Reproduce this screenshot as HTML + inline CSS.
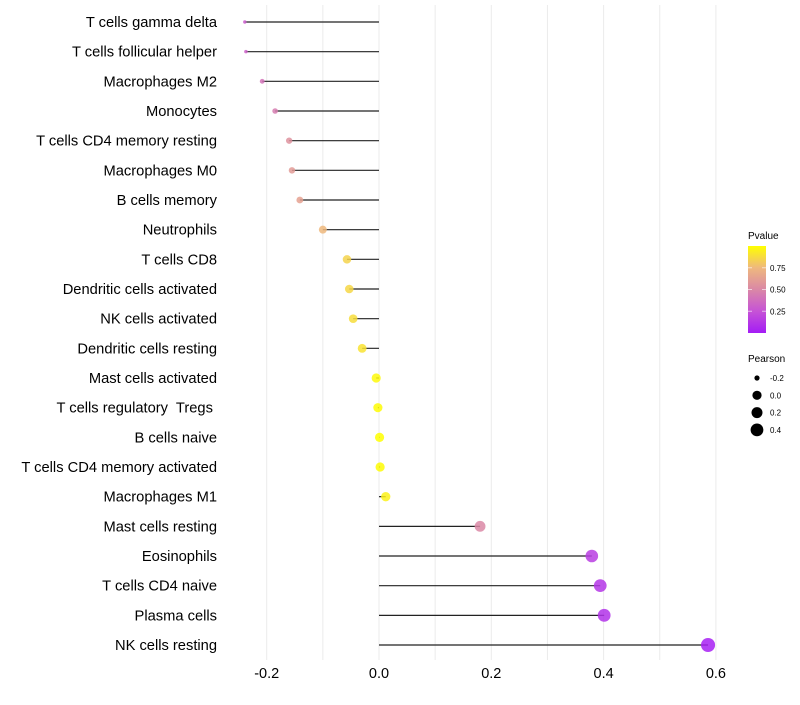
<!DOCTYPE html>
<html><head><meta charset="utf-8"><style>
body{margin:0;background:#fff;font-family:"Liberation Sans",sans-serif;}
text{white-space:pre;}
</style></head><body>
<svg id="chart" width="800" height="700" xmlns="http://www.w3.org/2000/svg"></svg>
<script>
const categories=["T cells gamma delta","T cells follicular helper","Macrophages M2","Monocytes","T cells CD4 memory resting","Macrophages M0","B cells memory","Neutrophils","T cells CD8","Dendritic cells activated","NK cells activated","Dendritic cells resting","Mast cells activated","T cells regulatory  Tregs ","B cells naive","T cells CD4 memory activated","Macrophages M1","Mast cells resting","Eosinophils","T cells CD4 naive","Plasma cells","NK cells resting"];
const pearson=[-0.239,-0.237,-0.208,-0.185,-0.160,-0.155,-0.141,-0.100,-0.057,-0.053,-0.046,-0.030,-0.005,-0.002,0.001,0.002,0.012,0.180,0.379,0.394,0.401,0.586];
const pvalue=[0.3,0.32,0.4,0.45,0.55,0.6,0.63,0.75,0.85,0.86,0.88,0.9,0.98,0.99,1.0,0.99,0.95,0.5,0.15,0.12,0.1,0.02];
const xTicks=[-0.2,0.0,0.2,0.4,0.6];
const xTickLabels=["-0.2","0.0","0.2","0.4","0.6"];
const gridVals=[-0.2,-0.1,0,0.1,0.2,0.3,0.4,0.5,0.6];
const pLegendTicks=[0.25,0.5,0.75];
const pLegendLabels=["0.25","0.50","0.75"];
const sizeLegend=[-0.2,0.0,0.2,0.4];
const sizeLegendLabels=["-0.2","0.0","0.2","0.4"];

const NS="http://www.w3.org/2000/svg";
const svg=document.getElementById('chart');
const x=v=>379+v*561.5;
const y=i=>22+i*29.667;
const knots=[[-0.3,1.2],[-0.24,1.7],[-0.2,2.6],[-0.1,4],[0,4.6],[0.2,5.5],[0.4,6.4],[0.6,7.1],[0.8,7.8]];
function r(v){for(let k=0;k<knots.length-1;k++){const[a,ra]=knots[k],[b,rb]=knots[k+1];if(v<=b){return ra+(rb-ra)*Math.max(0,(v-a)/(b-a));}}return 7.8;}
const stops=[[0,[164,28,245]],[0.25,[198,83,214]],[0.5,[218,136,166]],[0.75,[239,184,126]],[1,[255,255,0]]];
function col(p){for(let k=0;k<stops.length-1;k++){const[a,ca]=stops[k],[b,cb]=stops[k+1];if(p<=b){const t=(p-a)/(b-a);return 'rgb('+ca.map((c,j)=>Math.round(c+(cb[j]-c)*t)).join(',')+')';}}return 'rgb(255,255,0)';}
function mk(tag,attrs,parent){const e=document.createElementNS(NS,tag);for(const k in attrs)e.setAttribute(k,attrs[k]);(parent||svg).appendChild(e);return e;}

gridVals.forEach(v=>{const g=mk('line',{x1:x(v),x2:x(v),y1:5,y2:660,stroke:'#ebebeb','stroke-width':1});

});
xTicks.forEach((v,i)=>{const t=mk('text',{x:x(v),y:678,'text-anchor':'middle','font-size':14.5,fill:'#000'});t.textContent=xTickLabels[i];

});
categories.forEach((c,i)=>{
const t=mk('text',{x:217,y:y(i)+5,'text-anchor':'end','font-size':14.7,fill:'#000'});t.textContent=c;


const l=mk('line',{x1:x(0),x2:x(pearson[i]),y1:y(i),y2:y(i),stroke:'#222','stroke-width':1.2});


const p=mk('circle',{cx:x(pearson[i]),cy:y(i),r:r(pearson[i]),fill:col(pvalue[i]),'fill-opacity':0.85});


});
const lt=mk('text',{x:748,y:239,'font-size':10});lt.textContent='Pvalue';


const defs=mk('defs',{});const lg=mk('linearGradient',{id:'pg',x1:0,y1:1,x2:0,y2:0},defs);
stops.forEach(s=>mk('stop',{offset:s[0],'stop-color':'rgb('+s[1].join(',')+')'},lg));
const bar=mk('rect',{x:748,y:246,width:18,height:87,fill:'url(#pg)'});


const py=p=>333-p*87;
pLegendTicks.forEach((p,i)=>{mk('line',{x1:748,x2:752,y1:py(p),y2:py(p),stroke:'#fff','stroke-opacity':0.6});mk('line',{x1:762,x2:766,y1:py(p),y2:py(p),stroke:'#fff','stroke-opacity':0.6});
const t=mk('text',{x:770,y:py(p)+3,'font-size':8});t.textContent=pLegendLabels[i];

});
const st=mk('text',{x:748,y:362,'font-size':10});st.textContent='Pearson';


sizeLegend.forEach((v,i)=>{const cy=378+i*17.3;
const c=mk('circle',{cx:757,cy:cy,r:r(v),fill:'#000'});


const t=mk('text',{x:770,y:cy+3,'font-size':8});t.textContent=sizeLegendLabels[i];

});
</script>
</body></html>
